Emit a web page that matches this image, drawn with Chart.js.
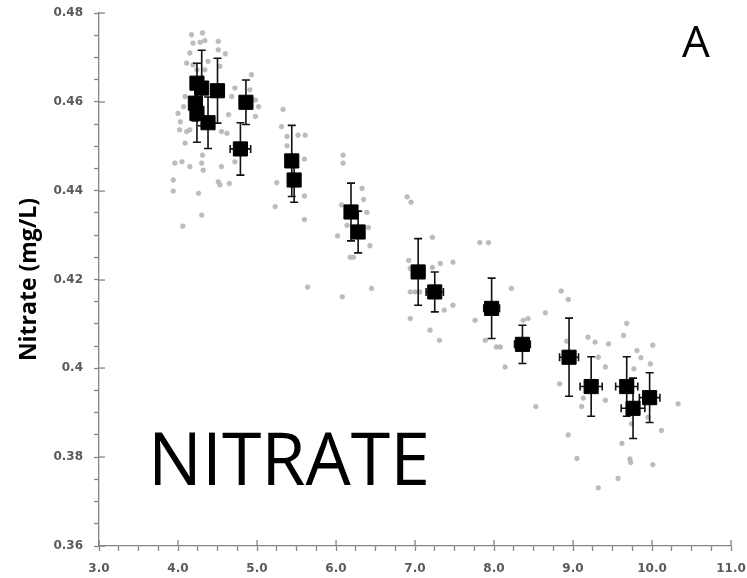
<!DOCTYPE html>
<html>
<head>
<meta charset="utf-8">
<script src="https://cdn.jsdelivr.net/npm/chart.js@4.4.0/dist/chart.umd.min.js"></script>
<style>
  html, body { margin: 0; padding: 0; background: #ffffff; }
  #wrap { width: 747px; height: 578px; position: relative; }
</style>
</head>
<body>
<div id="wrap"><canvas id="c" width="747" height="578"></canvas></div>
<script>
// ---- Data ----
const xTickValues = [3, 4, 5, 6, 7, 8, 9, 10, 11];
const yTickValues = [0.36, 0.38, 0.40, 0.42, 0.44, 0.46, 0.48];

// Mean values (black squares) with error bars
const meanX = [4.24, 4.30, 4.50, 4.22, 4.24, 4.38, 4.86, 4.79, 5.44, 5.47, 6.19, 6.28, 7.04, 7.25, 7.97, 8.36, 8.95, 9.23, 9.68, 9.76, 9.97];
const meanY = [0.4642, 0.4631, 0.4625, 0.4597, 0.4574, 0.4553, 0.4599, 0.4494, 0.4467, 0.4424, 0.4352, 0.4307, 0.4217, 0.4172, 0.4135, 0.4054, 0.4025, 0.3959, 0.3959, 0.3910, 0.3934];
const meanYErr = [0.0045, 0.0085, 0.0073, 0.0040, 0.0065, 0.0058, 0.0050, 0.0059, 0.0080, 0.0050, 0.0065, 0.0047, 0.0075, 0.0045, 0.0068, 0.0043, 0.0088, 0.0067, 0.0067, 0.0068, 0.0056];
const meanXErr = [0.05, 0.05, 0.05, 0.05, 0.05, 0.05, 0.05, 0.13, 0.05, 0.05, 0.05, 0.05, 0.08, 0.11, 0.10, 0.10, 0.12, 0.14, 0.14, 0.15, 0.13];

// Individual observations (grey dots)
const rawX = [4.17, 4.31, 4.19, 4.28, 4.34, 4.51, 4.15, 4.51, 4.60, 4.11, 4.19, 4.38, 4.53, 4.34, 4.24, 4.09, 4.07, 4.00, 4.03, 4.02,
  4.11, 4.15, 4.09, 4.55, 4.62, 4.93, 4.91, 4.72, 4.68, 4.98, 5.02, 4.64, 4.98, 4.31, 4.30, 4.32, 3.96, 4.05, 4.15, 4.55,
  3.94, 4.51, 4.53, 4.65, 3.94, 4.26, 4.30, 4.72, 5.33, 5.31, 5.38, 5.52, 5.61, 5.38, 5.25, 5.23, 6.09, 6.09, 6.07, 5.60,
  5.60, 5.60, 6.33, 6.35, 6.39, 6.14, 6.41, 6.02, 6.43, 6.18, 6.22, 5.64, 6.08, 6.45, 6.90, 6.95, 7.22, 6.92, 6.94, 7.32,
  7.48, 6.94, 7.00, 7.06, 7.22, 7.48, 7.37, 6.94, 7.19, 7.31, 7.82, 7.93, 8.22, 7.76, 8.43, 8.65, 7.89, 8.03, 8.08, 8.14,
  8.37, 8.85, 8.94, 8.83, 8.92, 8.53, 8.94, 9.05, 9.19, 9.28, 9.45, 9.32, 9.41, 9.13, 9.11, 9.41, 9.68, 9.64, 9.81, 9.86,
  10.01, 9.77, 9.98, 10.33, 10.12, 9.95, 9.74, 9.62, 9.72, 9.73, 10.01, 9.57, 9.32, 4.06];
const rawY = [0.4751, 0.4755, 0.4732, 0.4734, 0.4738, 0.4736, 0.4710, 0.4717, 0.4708, 0.4687, 0.4683, 0.4691, 0.4680, 0.4672, 0.4672, 0.4612, 0.4589, 0.4574, 0.4555, 0.4537,
  0.4533, 0.4537, 0.4507, 0.4533, 0.4529, 0.4661, 0.4627, 0.4631, 0.4612, 0.4604, 0.4589, 0.4571, 0.4567, 0.4480, 0.4462, 0.4446, 0.4462, 0.4465, 0.4454, 0.4454,
  0.4424, 0.4420, 0.4413, 0.4416, 0.4399, 0.4394, 0.4345, 0.4465, 0.4583, 0.4544, 0.4522, 0.4525, 0.4525, 0.4501, 0.4418, 0.4364, 0.4480, 0.4462, 0.4368, 0.4471,
  0.4388, 0.4335, 0.4405, 0.4380, 0.4351, 0.4322, 0.4317, 0.4298, 0.4276, 0.4250, 0.4250, 0.4183, 0.4161, 0.4180, 0.4386, 0.4374, 0.4295, 0.4243, 0.4225, 0.4236,
  0.4239, 0.4172, 0.4172, 0.4172, 0.4227, 0.4142, 0.4131, 0.4112, 0.4086, 0.4063, 0.4283, 0.4283, 0.4180, 0.4108, 0.4112, 0.4125, 0.4063, 0.4048, 0.4048, 0.4003,
  0.4108, 0.4174, 0.4155, 0.3965, 0.4061, 0.3914, 0.3850, 0.3797, 0.4070, 0.4059, 0.4055, 0.4025, 0.4003, 0.3933, 0.3914, 0.3928, 0.4101, 0.4074, 0.4040, 0.4024,
  0.4052, 0.3999, 0.4010, 0.3920, 0.3860, 0.3890, 0.3875, 0.3831, 0.3796, 0.3788, 0.3783, 0.3752, 0.3731, 0.4320];

const yTitle = 'Nitrate (mg/L)';
const panelLabel = 'A';
const bigLabel = 'NITRATE';
const xMinorStep = 0.25;
const yMinorStep = 0.005;

// ---- Build datasets ----
const meanPoints = meanX.map((x, i) => ({ x: x, y: meanY[i], xErr: meanXErr[i], yErr: meanYErr[i] }));
const rawPoints = rawX.map((x, i) => ({ x: x, y: rawY[i] }));

const AXIS_COLOR = '#858585';
const isMajorX = v => xTickValues.some(t => Math.abs(t - v) < 1e-7);
const isMajorY = v => yTickValues.some(t => Math.abs(t - v) < 1e-7);

// all tick positions (major + minor) for the native tick marks
function allTicks(min, max, step) {
  const n = Math.round((max - min) / step);
  const out = [];
  for (let k = 0; k <= n; k++) out.push({ value: +(min + k * step).toFixed(6) });
  return out;
}

// Error bars, drawn through the chart scales
const errorBarPlugin = {
  id: 'errorBars',
  beforeDatasetDraw(chart, args) {
    if (args.index !== 0) return;
    const xs = chart.scales.x, ys = chart.scales.y;
    const ctx = chart.ctx;
    ctx.save();
    ctx.strokeStyle = '#111111';
    ctx.lineWidth = 1.6;
    const cap = 4;
    meanPoints.forEach(p => {
      const px = xs.getPixelForValue(p.x), py = ys.getPixelForValue(p.y);
      const yTop = ys.getPixelForValue(p.y + p.yErr), yBot = ys.getPixelForValue(p.y - p.yErr);
      const xL = xs.getPixelForValue(p.x - p.xErr), xR = xs.getPixelForValue(p.x + p.xErr);
      ctx.beginPath();
      ctx.moveTo(px, yTop); ctx.lineTo(px, yBot);
      ctx.moveTo(px - cap, yTop); ctx.lineTo(px + cap, yTop);
      ctx.moveTo(px - cap, yBot); ctx.lineTo(px + cap, yBot);
      ctx.moveTo(xL, py); ctx.lineTo(xR, py);
      ctx.moveTo(xL, py - cap); ctx.lineTo(xL, py + cap);
      ctx.moveTo(xR, py - cap); ctx.lineTo(xR, py + cap);
      ctx.stroke();
    });
    ctx.restore();
  }
};

// Inner half of the major tick marks, and free text
const overlayPlugin = {
  id: 'overlayMarks',
  afterDraw(chart) {
    const xs = chart.scales.x, ys = chart.scales.y, ctx = chart.ctx;
    const area = chart.chartArea;
    ctx.save();
    ctx.fillStyle = AXIS_COLOR;
    const ax = Math.round(area.left);
    const ay = Math.round(area.bottom);
    yTickValues.forEach(v => {
      const py = Math.round(ys.getPixelForValue(v));
      ctx.fillRect(ax, py - 0.6, 6, 1.3);
    });
    xTickValues.forEach(v => {
      const px = Math.round(xs.getPixelForValue(v));
      ctx.fillRect(px - 0.6, ay - 6, 1.3, 6);
    });

    ctx.fillStyle = '#000000';
    ctx.textAlign = 'left';
    ctx.textBaseline = 'alphabetic';
    ctx.font = '74px "Open Sans"';
    ctx.fillText(bigLabel, 148, 485, 282);
    ctx.font = '44px "Open Sans"';
    ctx.fillText(panelLabel, 682, 57);
    ctx.restore();
  }
};

const tickFont = { family: '"DejaVu Sans", Verdana, sans-serif', size: 12, weight: 'bold' };

new Chart(document.getElementById('c'), {
  type: 'scatter',
  data: {
    datasets: [
      {
        label: 'Mean',
        data: meanPoints,
        pointStyle: 'rect',
        pointRadius: 10,
        pointHoverRadius: 10,
        backgroundColor: '#000000',
        borderColor: '#000000',
        borderWidth: 1
      },
      {
        label: 'Observations',
        data: rawPoints,
        pointStyle: 'circle',
        pointRadius: 2.4,
        pointHoverRadius: 2.4,
        backgroundColor: '#bcbcbc',
        borderColor: '#b0b0b0',
        borderWidth: 0.5
      }
    ]
  },
  options: {
    responsive: false,
    animation: false,
    events: [],
    layout: { padding: { top: 13, right: 16, bottom: 0, left: 0 } },
    plugins: {
      legend: { display: false },
      tooltip: { enabled: false },
      title: { display: false }
    },
    scales: {
      x: {
        type: 'linear',
        min: 3, max: 11,
        afterBuildTicks: s => { s.ticks = allTicks(3, 11, xMinorStep); },
        afterFit: s => { s.height = 32; s.paddingLeft = 15; s.paddingRight = 15; },
        grid: {
          display: true, drawOnChartArea: false, drawTicks: true, tickLength: 5,
          tickColor: AXIS_COLOR, tickWidth: 1.3
        },
        border: { display: true, color: AXIS_COLOR, width: 1.3 },
        ticks: {
          font: tickFont, color: '#5a5a5a', padding: 11, maxRotation: 0, minRotation: 0,
          autoSkip: false,
          callback: v => isMajorX(v) ? Number(v).toFixed(1) : ''
        }
      },
      y: {
        type: 'linear',
        min: 0.36, max: 0.48,
        afterBuildTicks: s => { s.ticks = allTicks(0.36, 0.48, yMinorStep); },
        afterFit: s => { s.width = 99; s.paddingTop = 7; s.paddingBottom = 7; },
        grid: {
          display: true, drawOnChartArea: false, drawTicks: true, tickLength: 5,
          tickColor: AXIS_COLOR, tickWidth: 1.3
        },
        border: { display: true, color: AXIS_COLOR, width: 1.3 },
        ticks: {
          font: tickFont, color: '#5a5a5a', padding: 11, autoSkip: false,
          callback: v => isMajorY(v) ? String(Math.round(v * 100) / 100) : ''
        },
        title: {
          display: true,
          text: yTitle,
          color: '#000000',
          font: { family: '"Open Sans", sans-serif', size: 23, weight: 'bold' },
          padding: { top: 16, bottom: 0 }
        }
      }
    }
  },
  plugins: [errorBarPlugin, overlayPlugin]
});
</script>
</body>
</html>
